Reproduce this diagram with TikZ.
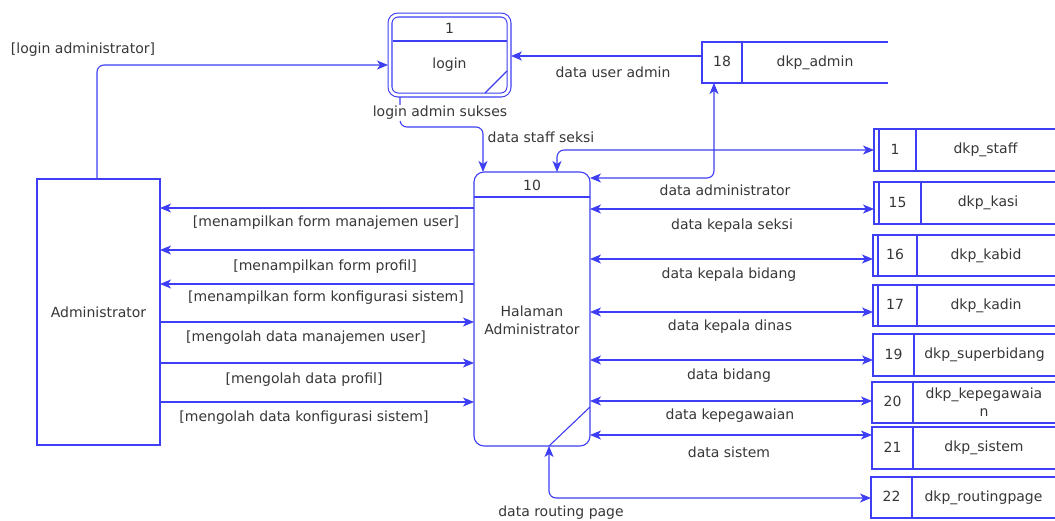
\documentclass[tikz,border=0pt]{standalone}
\usepackage{fontspec}
\setmainfont{DejaVu Sans}
\usetikzlibrary{arrows.meta,calc}
\definecolor{lineblue}{RGB}{62,62,245}
\definecolor{txtgray}{RGB}{55,55,55}
\tikzset{
  dfdline/.style={draw=lineblue, line width=1.1pt},
  tip/.tip={Stealth[length=11pt,width=9pt,inset=3pt]},
  flow/.style={dfdline, -tip},
  biflow/.style={dfdline, tip-tip},
  lbl/.style={text=txtgray, font=\fontsize{14}{18}\selectfont, inner sep=1pt},
  storearea/.style={inner sep=0pt, outer sep=0pt},
}
\newcommand\dfdstore[9]{%
  \node[storearea, minimum width={(#8-#2)*1pt}, minimum height={(#5-#4)*1pt}] (#1) at ({(#2+#8)/2},{(#4+#5)/2}) {};
  \draw[dfdline] (#1.north east) -- (#1.north west) -- (#1.south west) -- (#1.south east);
  \draw[dfdline] (#1.north west -| #3,0) -- (#1.south west -| #3,0);
  \ifnum#9=1 \draw[dfdline] (#1.north west -| #2+5,0) -- (#1.south west -| #2+5,0);\fi
  \node[lbl] (#1num) at ({(#2+#3)/2},{(#4+#5)/2-1}) {#6};
  \node[lbl, align=center] (#1name) at ({(#3+#8)/2},{(#4+#5)/2}) {#7};
}
\begin{document}
\begin{tikzpicture}[x=1pt,y=-1pt]
\useasboundingbox (0,0) rectangle (1055,520);
\fill[white] (0,0) rectangle (1055,520);

% Administrator entity
\node[dfdline, lbl, minimum width=123pt, minimum height=266pt, inner sep=0pt, outer sep=0pt] (adm) at (98.5,312) {Administrator};

% Process 1: login
\node[dfdline, double=white, double distance=2.8pt, rounded corners=8pt, minimum width=119pt, minimum height=80pt, inner sep=0pt, outer sep=2pt] (p1) at (449.5,55) {};
\draw[dfdline] (392.5,41) -- (506.5,41);
\draw[dfdline] (485,93) -- (507,71);
\node[lbl] (p1id) at (449.5,28) {1};
\node[lbl] (p1name) at (449.5,65) {login};

% Process 10: Halaman Administrator
\node[dfdline, rounded corners=10pt, minimum width=116pt, minimum height=274pt, inner sep=0pt, outer sep=0pt] (p10) at (532,309) {};
\draw[dfdline] (p10.west |- 0,197) -- (p10.east |- 0,197);
\draw[dfdline] (549,446) -- (590,407);
\node[lbl] (p10id) at (532,185) {10};
\node[lbl, align=center] (p10name) at (532,320) {Halaman\\Administrator};

% Data stores
\dfdstore{s18}{702}{742}{42}{83}{18}{dkp\_admin}{888}{0}
\dfdstore{s1}{874}{916}{129}{171}{1}{dkp\_staff}{1055}{1}
\dfdstore{s15}{874}{921}{182}{224}{15}{dkp\_kasi}{1055}{1}
\dfdstore{s16}{873}{917}{235}{276}{16}{dkp\_kabid}{1055}{1}
\dfdstore{s17}{873}{917}{285}{326}{17}{dkp\_kadin}{1055}{1}
\dfdstore{s19}{873}{914}{334}{376}{19}{dkp\_superbidang}{1055}{0}
\dfdstore{s20}{872}{913}{382}{423}{20}{dkp\_kepegawaia\\n}{1055}{0}
\dfdstore{s21}{872}{913}{427}{469}{21}{dkp\_sistem}{1055}{0}
\dfdstore{s22}{871}{912}{477}{518}{22}{dkp\_routingpage}{1055}{0}

% login administrator
\draw[flow, rounded corners=7pt] (adm.north -| 97,0) |- (p1.west |- 0,65);
\node[lbl] (l1) at (83,50) {[login administrator]};

% data user admin
\draw[flow] (s18.west |- 0,56) -- (p1.east |- 0,56);
\node[lbl] (l2) at (613,72) {data user admin};

% login admin sukses
\draw[flow, rounded corners=7pt] (p1.south -| 400,0) -- (400,127) -- (483,127) -- (p10.north -| 483,0);
\node[lbl, fill=white] (l3) at (440,113) {login admin sukses};

% data staff seksi
\draw[biflow, rounded corners=7pt] (s1.west |- 0,150) -- (557,150) -- (p10.north -| 557,0);
\node[lbl] (l4) at (541,137) {data staff seksi};

% data administrator
\draw[biflow, rounded corners=7pt] (p10.east |- 0,178) -- (714,178) -- (s18.south -| 714,0);
\node[lbl] (l5) at (725,190) {data administrator};

% right-side flows
\draw[biflow] (p10.east |- 0,209) -- (s15.west |- 0,209);
\node[lbl] (l6) at (732,226) {data kepala seksi};
\draw[biflow] (p10.east |- 0,259) -- (s16.west |- 0,259);
\node[lbl] (l7) at (729,275) {data kepala bidang};
\draw[biflow] (p10.east |- 0,312) -- (s17.west |- 0,312);
\node[lbl] (l8) at (730,327) {data kepala dinas};
\draw[biflow] (p10.east |- 0,360) -- (s19.west |- 0,360);
\node[lbl] (l9) at (729,376) {data bidang};
\draw[biflow] (p10.east |- 0,401) -- (s20.west |- 0,401);
\node[lbl] (l10) at (730,416) {data kepegawaian};
\draw[biflow] (p10.east |- 0,435) -- (s21.west |- 0,435);
\node[lbl] (l11) at (729,452) {data sistem};

% data routing page
\draw[biflow, rounded corners=7pt] (s22.west |- 0,498) -- (549,498) -- (p10.south -| 549,0);
\node[lbl] (l12) at (561,513) {data routing page};

% left-side flows
\draw[flow] (p10.west |- 0,208) -- (adm.east |- 0,208);
\node[lbl] (l13) at (326,223) {[menampilkan form manajemen user]};
\draw[flow] (p10.west |- 0,250) -- (adm.east |- 0,250);
\node[lbl] (l14) at (325,267) {[menampilkan form profil]};
\draw[flow] (p10.west |- 0,284) -- (adm.east |- 0,284);
\node[lbl] (l15) at (326,298) {[menampilkan form konfigurasi sistem]};
\draw[flow] (adm.east |- 0,322) -- (p10.west |- 0,322);
\node[lbl] (l16) at (306,338) {[mengolah data manajemen user]};
\draw[flow] (adm.east |- 0,363) -- (p10.west |- 0,363);
\node[lbl] (l17) at (304,380) {[mengolah data profil]};
\draw[flow] (adm.east |- 0,402) -- (p10.west |- 0,402);
\node[lbl] (l18) at (304,418) {[mengolah data konfigurasi sistem]};
\end{tikzpicture}
\end{document}
